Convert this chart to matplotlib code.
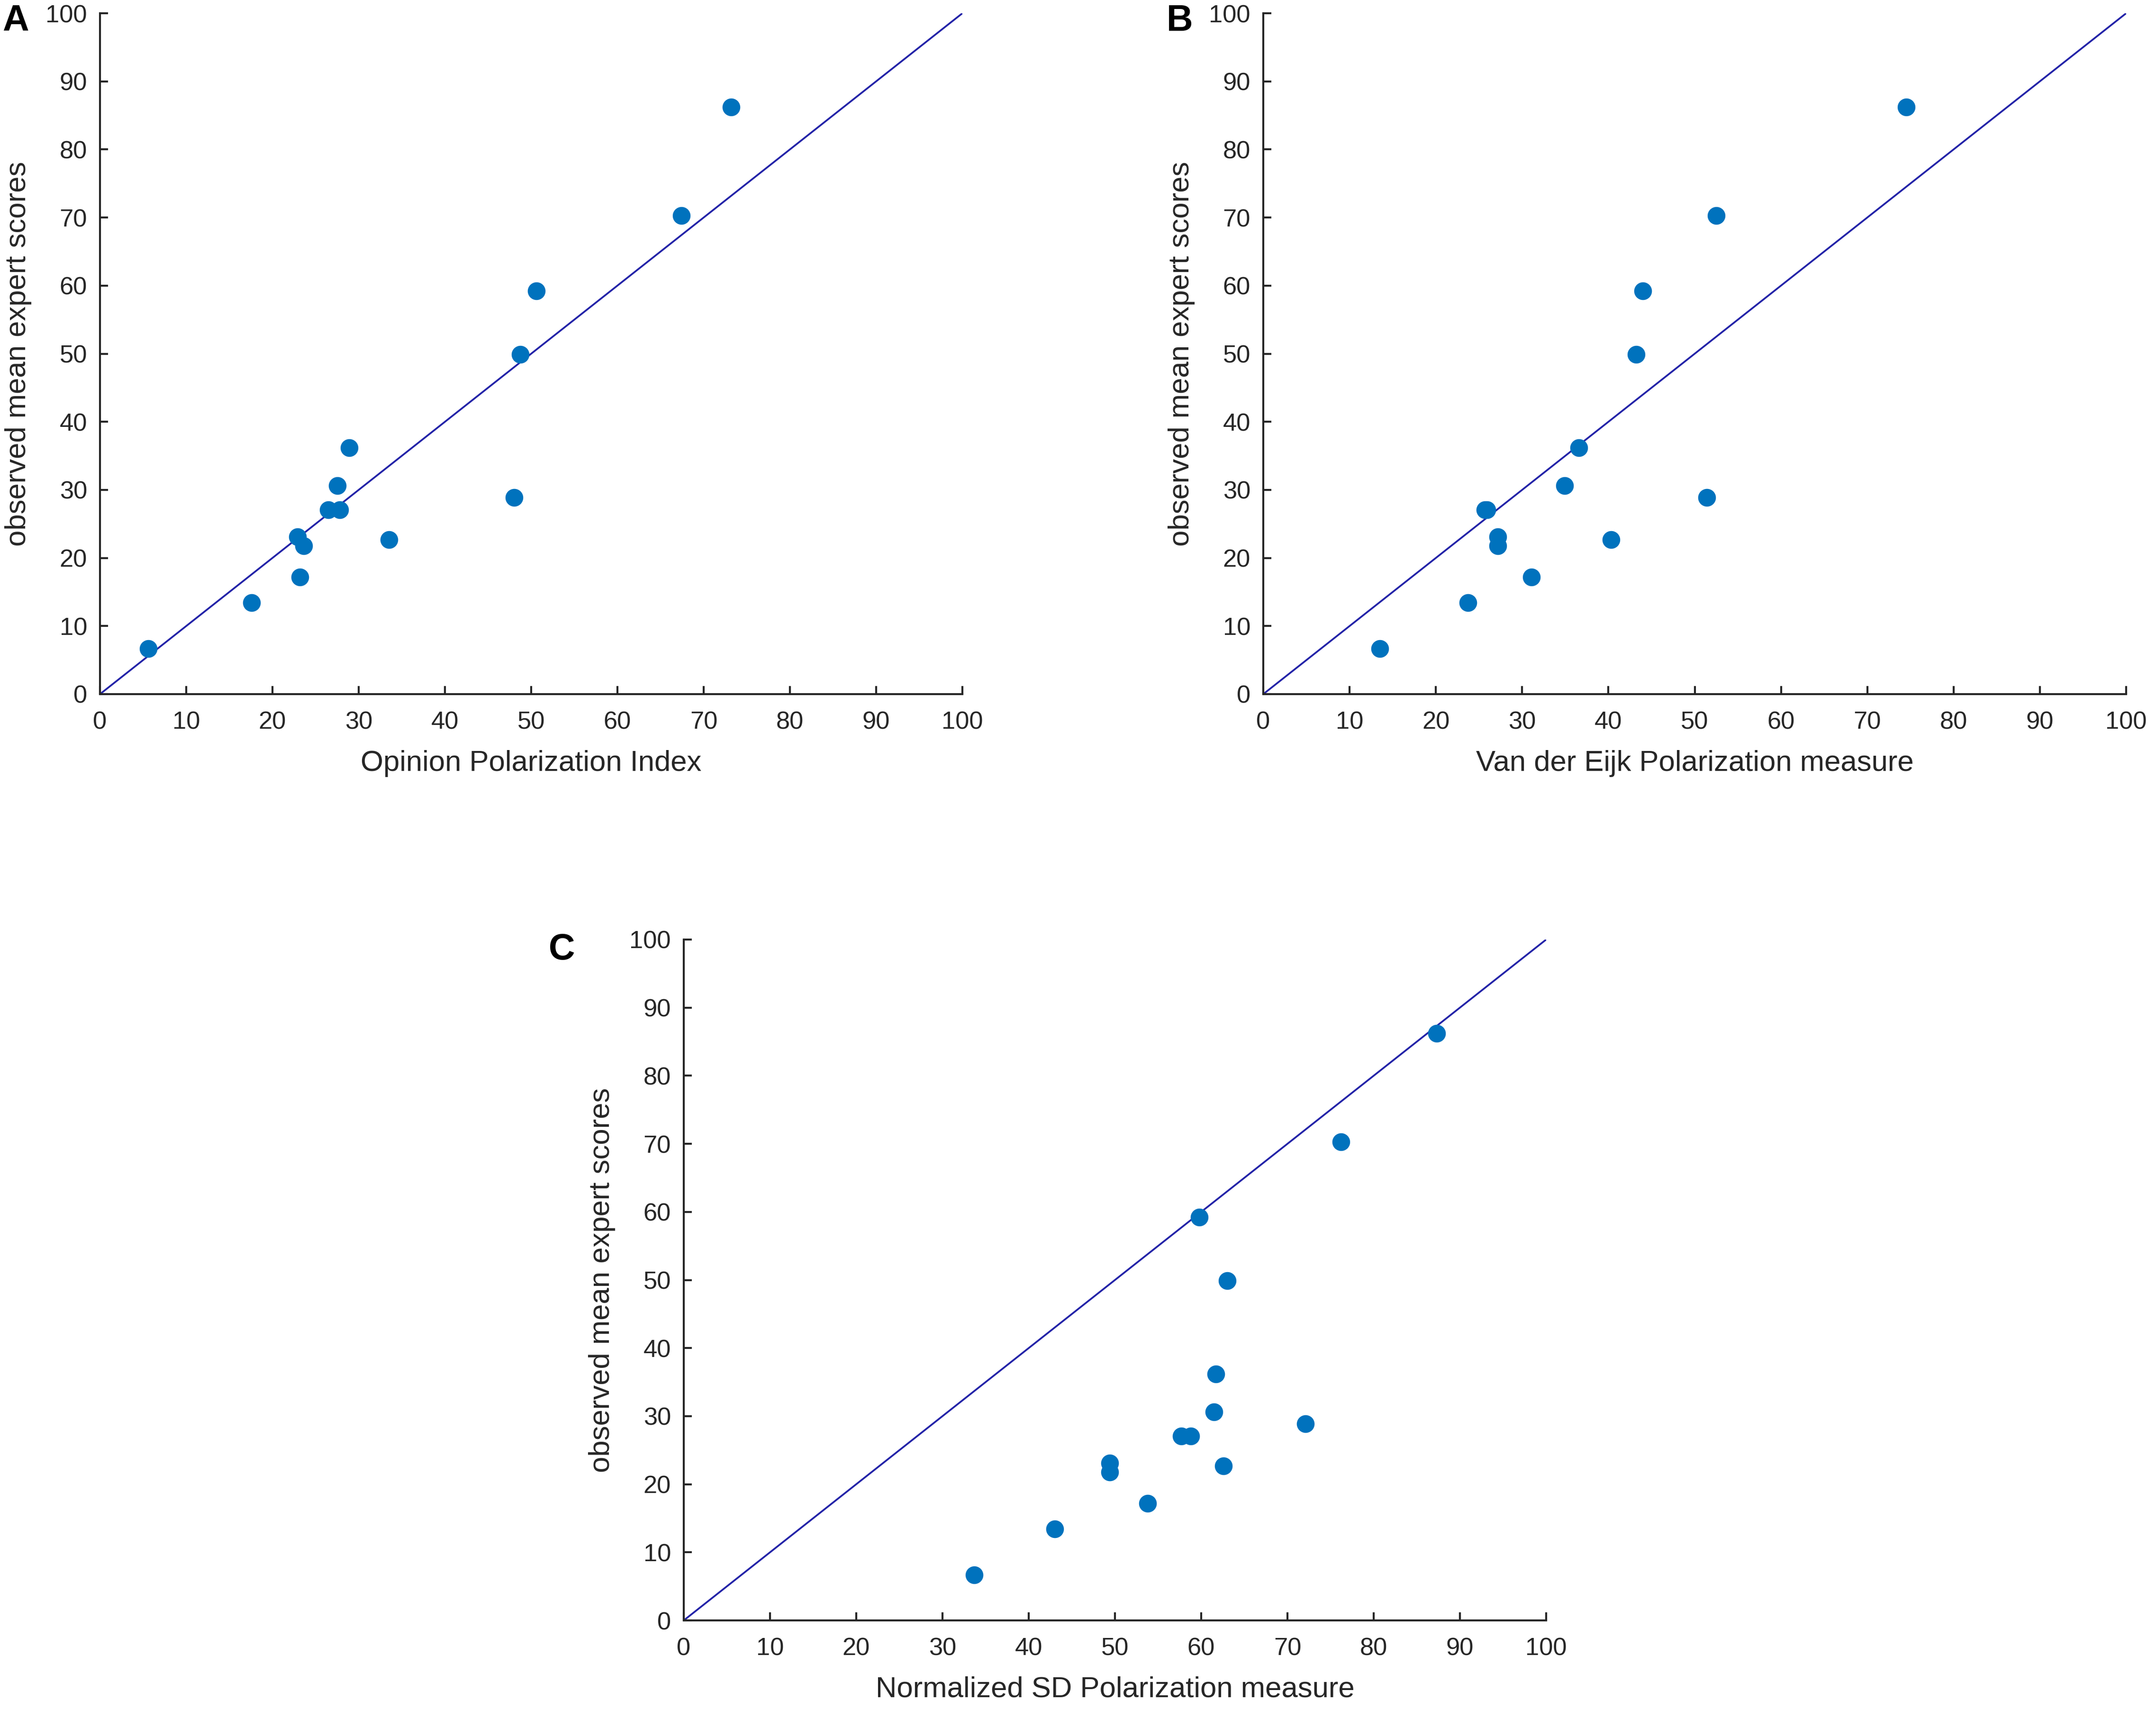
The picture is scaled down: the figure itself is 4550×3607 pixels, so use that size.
import numpy as np
import matplotlib.pyplot as plt

plt.rcParams['font.family'] = ['Liberation Sans', 'DejaVu Sans']

# observed mean expert scores (same for all three panels)
expert = np.array([6.7, 13.4, 17.2, 23.1, 21.8, 27.1, 27.1, 30.6, 36.2,
                   22.7, 28.9, 49.9, 59.2, 70.3, 86.2])

# values of each polarization measure
opi = np.array([5.6, 17.6, 23.2, 22.9, 23.6, 26.5, 27.8, 27.5, 28.9,
                33.5, 48.0, 48.75, 50.6, 67.4, 73.2])
vde = np.array([13.5, 23.7, 31.1, 27.2, 27.2, 25.7, 25.9, 34.9, 36.6,
                40.3, 51.4, 43.2, 44.0, 52.5, 74.5])
nsd = np.array([33.7, 43.0, 53.8, 49.4, 49.4, 57.7, 58.8, 61.5, 61.7,
                62.6, 72.1, 63.0, 59.8, 76.2, 87.3])

xlabels = ['Opinion Polarization Index',
           'Van der Eijk Polarization measure',
           'Normalized SD Polarization measure']
letters = ['A', 'B', 'C']
ticks = np.arange(0, 101, 10)

W, H = 4550, 3607
fig = plt.figure(figsize=(W / 300, H / 300), dpi=300)

# axes boxes in pixels: left, top, right, bottom
boxes = [(211, 28, 2031, 1465),
         (2666, 28, 4487, 1465),
         (1443, 1983, 3263, 3420)]
letter_pos = [(33, 8), (2490, 8), (1186, 1968)]

for i, xs in enumerate([opi, vde, nsd]):
    l, t, r, b = boxes[i]
    ax = fig.add_axes([l / W, 1 - b / H, (r - l) / W, (b - t) / H])
    ax.plot([0, 100], [0, 100], color='#2323a8', lw=0.9, zorder=1)
    ax.plot(xs, expert, 'o', color='#0072BD', markersize=8, zorder=2)
    ax.set_xlim(0, 100)
    ax.set_ylim(0, 100)
    ax.set_xticks(ticks)
    ax.set_yticks(ticks)
    ax.spines['top'].set_visible(False)
    ax.spines['right'].set_visible(False)
    for s in ['left', 'bottom']:
        ax.spines[s].set_color('#262626')
        ax.spines[s].set_linewidth(1.0)
    ax.tick_params(direction='in', length=4, width=1.0, colors='#262626',
                   labelsize=12.6)
    ax.tick_params(axis='y', pad=6.5)
    ax.tick_params(axis='x', pad=8.5)
    ax.set_xlabel(xlabels[i], fontsize=14.8, color='#262626', labelpad=8)
    ax.set_ylabel('observed mean expert scores', fontsize=14.8,
                  color='#262626', labelpad=7)
    fig.text(letter_pos[i][0] / W, 1 - letter_pos[i][1] / H, letters[i],
             fontsize=18.5, fontweight='bold', ha='center', va='top')

fig.savefig('out.png', dpi=300, facecolor='white')
